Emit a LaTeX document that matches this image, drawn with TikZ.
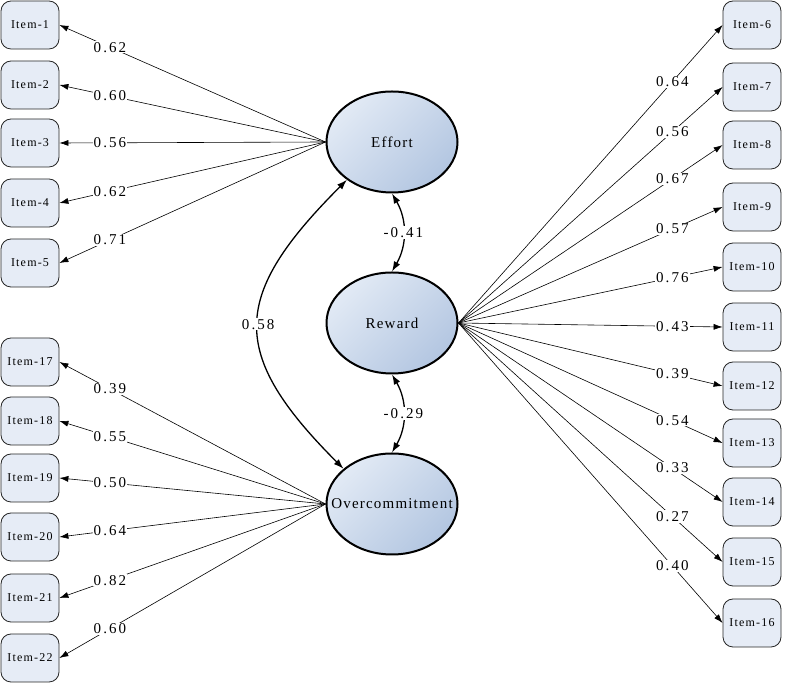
\documentclass[tikz,border=0pt]{standalone}
\usepackage{fontspec}
\setmainfont{Liberation Serif}
\usetikzlibrary{arrows.meta,shapes.geometric}
\definecolor{itemfill}{HTML}{E6ECF6}
\definecolor{latlight}{HTML}{E2EAF5}
\definecolor{latdark}{HTML}{B3C6E1}
\begin{document}
\begin{tikzpicture}[x=1pt, y=1pt]
      % fix the page to the size of the original figure
      \useasboundingbox (0,0) rectangle (788,688);
      \tikzstyle{item} = [rectangle, draw=black!85, line width=0.8pt, fill=itemfill, rounded corners=10pt, minimum width=58pt, minimum height=48pt, inner sep=0pt, font=\fontsize{12}{13}\selectfont\addfontfeature{LetterSpace=10}]
      \tikzstyle{latent} = [ellipse, draw, line width=2pt, minimum width=131pt, minimum height=101pt, inner sep=0pt, top color=latlight, bottom color=latdark, shading angle=45, font=\fontsize{15}{16}\selectfont\addfontfeature{LetterSpace=8}]
      \tikzstyle{line} = [draw, line width=0.6pt, -{Latex[length=9pt, width=6pt]}]
      \tikzstyle{cov} = [draw, line width=1.3pt, {Latex[length=10pt, width=7pt]}-{Latex[length=10pt, width=7pt]}]
      \tikzstyle{coef} = [fill=white, inner sep=1pt, font=\fontsize{15}{16}\selectfont\addfontfeature{LetterSpace=14}]
        % latent factors
        \node [latent] (effort) at (392,546) {Effort};
        \node [latent] (reward) at (392,365) {Reward};
        \node [latent] (over) at (392,184) {\makebox[0pt]{Overcommitment}};
        % effort items
        \node [item] (i1) at (30,663) {Item-1};
        \node [item] (i2) at (30,603) {Item-2};
        \node [item] (i3) at (30,545) {Item-3};
        \node [item] (i4) at (30,485) {Item-4};
        \node [item] (i5) at (30,425) {Item-5};
        % reward items
        \node [item] (i6) at (752,663) {Item-6};
        \node [item] (i7) at (752,601) {Item-7};
        \node [item] (i8) at (752,543) {Item-8};
        \node [item] (i9) at (752,481) {Item-9};
        \node [item] (i10) at (752,421) {Item-10};
        \node [item] (i11) at (752,361) {Item-11};
        \node [item] (i12) at (752,302) {Item-12};
        \node [item] (i13) at (752,245) {Item-13};
        \node [item] (i14) at (752,186) {Item-14};
        \node [item] (i15) at (752,126) {Item-15};
        \node [item] (i16) at (752,65) {Item-16};
        % overcommitment items
        \node [item] (i17) at (30,326) {Item-17};
        \node [item] (i18) at (30,267) {Item-18};
        \node [item] (i19) at (30,210) {Item-19};
        \node [item] (i20) at (30,151) {Item-20};
        \node [item] (i21) at (30,90) {Item-21};
        \node [item] (i22) at (30,30) {Item-22};
        % loadings
        \path [line] (effort.west) -- node [coef, pos=0.81] {0.62} (i1.east);
        \path [line] (effort.west) -- node [coef, pos=0.81] {0.60} (i2.east);
        \path [line] (effort.west) -- node [coef, pos=0.81] {0.56} (i3.east);
        \path [line] (effort.west) -- node [coef, pos=0.81] {0.62} (i4.east);
        \path [line] (effort.west) -- node [coef, pos=0.81] {0.71} (i5.east);
        \path [line] (reward.east) -- node [coef, pos=0.81] {0.64} (i6.west);
        \path [line] (reward.east) -- node [coef, pos=0.81] {0.56} (i7.west);
        \path [line] (reward.east) -- node [coef, pos=0.81] {0.67} (i8.west);
        \path [line] (reward.east) -- node [coef, pos=0.81] {0.57} (i9.west);
        \path [line] (reward.east) -- node [coef, pos=0.81] {0.76} (i10.west);
        \path [line] (reward.east) -- node [coef, pos=0.81] {0.43} (i11.west);
        \path [line] (reward.east) -- node [coef, pos=0.81] {0.39} (i12.west);
        \path [line] (reward.east) -- node [coef, pos=0.81] {0.54} (i13.west);
        \path [line] (reward.east) -- node [coef, pos=0.81] {0.33} (i14.west);
        \path [line] (reward.east) -- node [coef, pos=0.81] {0.27} (i15.west);
        \path [line] (reward.east) -- node [coef, pos=0.81] {0.40} (i16.west);
        \path [line] (over.west) -- node [coef, pos=0.81] {0.39} (i17.east);
        \path [line] (over.west) -- node [coef, pos=0.81] {0.55} (i18.east);
        \path [line] (over.west) -- node [coef, pos=0.81] {0.50} (i19.east);
        \path [line] (over.west) -- node [coef, pos=0.81] {0.64} (i20.east);
        \path [line] (over.west) -- node [coef, pos=0.81] {0.82} (i21.east);
        \path [line] (over.west) -- node [coef, pos=0.81] {0.60} (i22.east);
        % correlations between factors
        \path [cov] (effort.south) to [bend left=30] node [coef] {-0.41} (reward.north);
        \path [cov] (reward.south) to [bend left=30] node [coef] {-0.29} (over.north);
        \path [cov] (effort.220) to [out=225, in=135, looseness=1.45] node [coef] {0.58} (over.144);
      \end{tikzpicture}
\end{document}
